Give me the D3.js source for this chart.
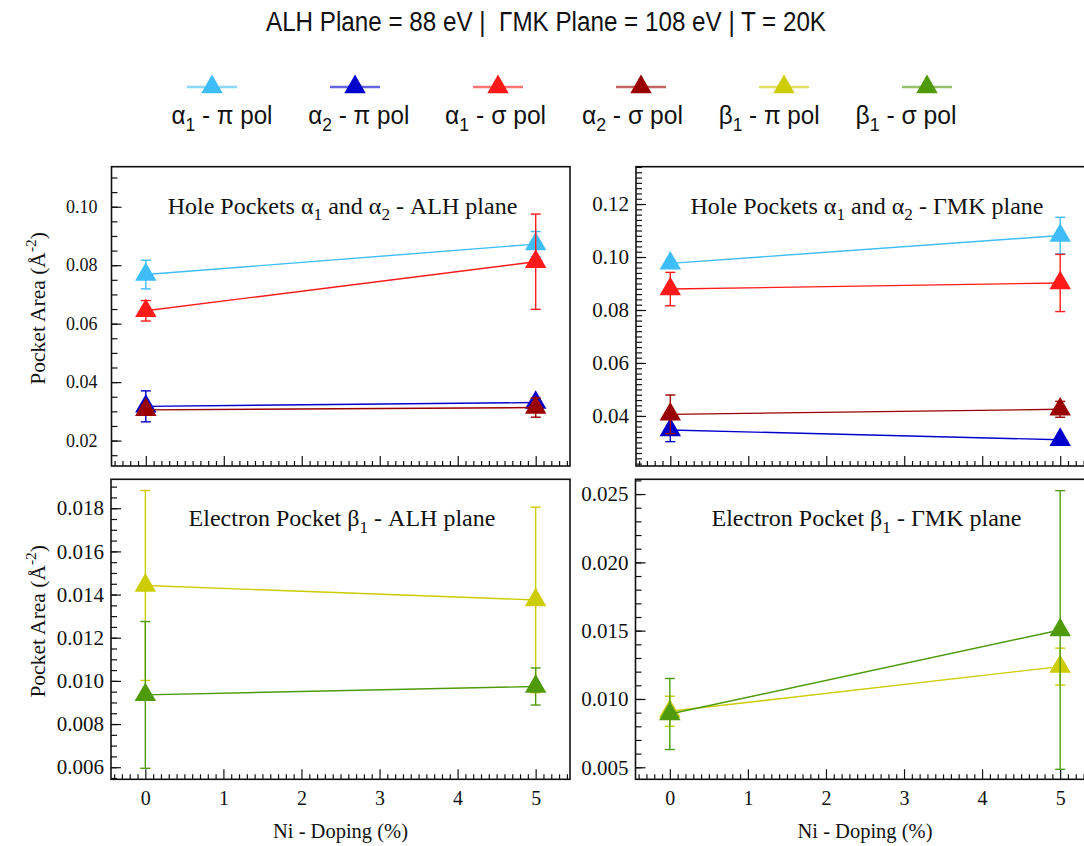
<!DOCTYPE html>
<html><head><meta charset="utf-8">
<script src="https://cdn.jsdelivr.net/npm/d3@7"></script>
<style>body{margin:0;background:#fff}svg{display:block}text{white-space:pre}</style>
</head><body><svg id="c" width="1084" height="846"></svg>
<script>
// ---------------- data ----------------
const doping = [0, 5];
const xTickValues = [0, 1, 2, 3, 4, 5];
const titleText = "ALH Plane = 88 eV |  ΓMK Plane = 108 eV | T = 20K";
const legendGreek = ["α", "α", "α", "α", "β", "β"];
const legendSub = ["1", "2", "1", "2", "1", "1"];
const legendPol = [" - π pol", " - π pol", " - σ pol", " - σ pol", " - π pol", " - σ pol"];
const seriesColors = ["#3fbdf8", "#0000cc", "#ff1a1a", "#990000", "#cccc00", "#4f9a0a"];

// ALH plane, hole pockets (series 0..3)
const alhA1Pi = [0.0768, 0.0872], alhA1PiErr = [0.0049, 0.0043];
const alhA2Pi = [0.0317, 0.0330], alhA2PiErr = [0.0053, 0.0012];
const alhA1Sig = [0.0644, 0.0812], alhA1SigErr = [0.0035, 0.0163];
const alhA2Sig = [0.0305, 0.0313], alhA2SigErr = [0.0018, 0.0033];
// ΓMK plane, hole pockets
const gmkA1Pi = [0.0976, 0.1081], gmkA1PiErr = [0.0012, 0.0069];
const gmkA2Pi = [0.0347, 0.0310], gmkA2PiErr = [0.0044, 0.0010];
const gmkA1Sig = [0.0879, 0.0902], gmkA1SigErr = [0.0063, 0.0108];
const gmkA2Sig = [0.0406, 0.0425], gmkA2SigErr = [0.0073, 0.0030];
// ALH plane, electron pocket (series 4,5)
const alhB1Pi = [0.01442, 0.01375], alhB1PiErr = [0.0044, 0.0043];
const alhB1Sig = [0.00935, 0.00974], alhB1SigErr = [0.0034, 0.00086];
// ΓMK plane, electron pocket
const gmkB1Pi = [0.0091, 0.01237], gmkB1PiErr = [0.0011, 0.00135];
const gmkB1Sig = [0.0089, 0.01505], gmkB1SigErr = [0.0026, 0.0102];

const tlTicks = [0.02, 0.04, 0.06, 0.08, 0.10];
const trTicks = [0.04, 0.06, 0.08, 0.10, 0.12];
const blTicks = [0.006, 0.008, 0.010, 0.012, 0.014, 0.016, 0.018];
const brTicks = [0.005, 0.010, 0.015, 0.020, 0.025];

// ---------------- layout ----------------
const SERIF = "'Liberation Serif','Times New Roman',serif";
const SANS = "'Liberation Sans',Arial,sans-serif";
const svg = d3.select("#c");

const panels = [
  {x0: 111.5, y0: 166.7, w: 458.5, h: 299.3, dom: [0.0113, 0.1137], ticks: tlTicks, minorStep: 0.005, fmt: ".2f", pad: 14, tfs: 18,
   series: [[alhA1Pi, alhA1PiErr, 0], [alhA2Pi, alhA2PiErr, 1], [alhA1Sig, alhA1SigErr, 2], [alhA2Sig, alhA2SigErr, 3]],
   note: ["Hole Pockets α", {sub: "1"}, " and α", {sub: "2"}, " - ALH plane"], xlab: false, ylab: true},
  {x0: 636, y0: 166.7, w: 458.5, h: 299.3, dom: [0.0211, 0.1341], ticks: trTicks, minorStep: 0.002, fmt: ".2f", pad: 7, tfs: 21,
   series: [[gmkA1Pi, gmkA1PiErr, 0], [gmkA2Pi, gmkA2PiErr, 1], [gmkA1Sig, gmkA1SigErr, 2], [gmkA2Sig, gmkA2SigErr, 3]],
   note: ["Hole Pockets α", {sub: "1"}, " and α", {sub: "2"}, " - ΓMK plane"], xlab: false, ylab: false},
  {x0: 111, y0: 479.3, w: 459, h: 300, dom: [0.00544, 0.01934], ticks: blTicks, minorStep: 0.0005, fmt: ".3f", pad: 7, tfs: 21,
   series: [[alhB1Pi, alhB1PiErr, 4], [alhB1Sig, alhB1SigErr, 5]],
   note: ["Electron Pocket β", {sub: "1"}, " - ALH plane"], xlab: true, ylab: true},
  {x0: 635.5, y0: 479.3, w: 459, h: 300, dom: [0.00412, 0.02608], ticks: brTicks, minorStep: 0.001, fmt: ".3f", pad: 7, tfs: 21,
   series: [[gmkB1Pi, gmkB1PiErr, 4], [gmkB1Sig, gmkB1SigErr, 5]],
   note: ["Electron Pocket β", {sub: "1"}, " - ΓMK plane"], xlab: true, ylab: false}
];

function rich(t, parts, size) {
  let shifted = 0;
  parts.forEach(p => {
    if (typeof p === "string") {
      t.append("tspan").attr("dy", -shifted).attr("font-size", size).text(p);
      shifted = 0;
    } else if (p.sub) {
      const d = size * 0.28;
      t.append("tspan").attr("dy", d).attr("font-size", size * 0.72).text(p.sub);
      shifted = d;
    } else if (p.sup) {
      const d = -size * 0.42;
      t.append("tspan").attr("dy", d).attr("font-size", size * 0.72).text(p.sup);
      shifted = d;
    }
  });
  return t;
}

// title
svg.append("text").attr("x", 546).attr("y", 31).attr("text-anchor", "middle")
  .attr("font-family", SANS).attr("font-size", 27).attr("fill", "#111")
  .attr("textLength", 560).attr("lengthAdjust", "spacingAndGlyphs").text(titleText);

// legend
const sym = d3.symbol().type(d3.symbolTriangle).size(200);
legendGreek.forEach((gk, i) => {
  const cx = 212 + i * 143, cy = 87;
  svg.append("line").attr("x1", cx - 25).attr("x2", cx + 25).attr("y1", cy).attr("y2", cy)
    .attr("stroke", seriesColors[i]).attr("stroke-width", 2.5).attr("opacity", 0.6);
  svg.append("path").attr("d", sym()).attr("transform", `translate(${cx},${cy})`).attr("fill", seriesColors[i]);
  const t = svg.append("text").attr("x", 222 + i * 136.8).attr("y", 124).attr("text-anchor", "middle")
    .attr("font-family", SANS).attr("fill", "#111")
    .attr("textLength", 101).attr("lengthAdjust", "spacingAndGlyphs");
  rich(t, [gk, {sub: legendSub[i]}, legendPol[i]], 26);
});

const xDom = [-0.44, 5.44];
panels.forEach(p => {
  const g = svg.append("g");
  const x = d3.scaleLinear().domain(xDom).range([p.x0, p.x0 + p.w]);
  const y = d3.scaleLinear().domain(p.dom).range([p.y0 + p.h, p.y0]);
  const strip = s => s.call(a => a.select(".domain").remove())
    .call(a => a.selectAll("line").attr("stroke", "#111").attr("stroke-width", 1.2));

  // y minor ticks
  const k0 = Math.ceil(p.dom[0] / p.minorStep - 1e-6), k1 = Math.floor(p.dom[1] / p.minorStep + 1e-6);
  const minorY = d3.range(k0, k1 + 1).map(k => +(k * p.minorStep).toFixed(6));
  g.append("g").attr("transform", `translate(${p.x0},0)`)
    .call(d3.axisLeft(y).tickValues(minorY).tickSize(-6).tickFormat("")).call(strip);
  // y major ticks
  const ya = g.append("g").attr("transform", `translate(${p.x0},0)`)
    .call(d3.axisLeft(y).tickValues(p.ticks).tickSize(-10).tickPadding(p.pad).tickFormat(d3.format(p.fmt))).call(strip);
  ya.selectAll("text").attr("font-family", SERIF).attr("font-size", p.tfs).attr("fill", "#111");

  // x minor / major ticks
  const minorX = d3.range(-4, 55).map(k => k / 10).filter(v => Math.abs(v - Math.round(v)) > 1e-6);
  g.append("g").attr("transform", `translate(0,${p.y0 + p.h})`)
    .call(d3.axisBottom(x).tickValues(minorX).tickSize(-5).tickFormat("")).call(strip);
  const xa = g.append("g").attr("transform", `translate(0,${p.y0 + p.h})`)
    .call(d3.axisBottom(x).tickValues(xTickValues).tickSize(-10).tickPadding(12)
      .tickFormat(p.xlab ? d3.format("d") : "")).call(strip);
  xa.selectAll("text").attr("font-family", SERIF).attr("font-size", 20).attr("fill", "#111");

  // series
  const line = d3.line().x((d, i) => x(doping[i])).y(d => y(d));
  p.series.forEach(([vals, errs, ci]) => {
    const col = seriesColors[ci];
    g.append("path").attr("d", line(vals)).attr("fill", "none").attr("stroke", col).attr("stroke-width", 1.4);
    vals.forEach((v, i) => {
      const cx = x(doping[i]), yt = y(v + errs[i]), yb = y(v - errs[i]);
      g.append("line").attr("x1", cx).attr("x2", cx).attr("y1", yt).attr("y2", yb).attr("stroke", col).attr("stroke-width", 1.4);
      [yt, yb].forEach(yy => g.append("line").attr("x1", cx - 5).attr("x2", cx + 5).attr("y1", yy).attr("y2", yy)
        .attr("stroke", col).attr("stroke-width", 1.4));
    });
    vals.forEach((v, i) => {
      g.append("path").attr("d", sym()).attr("transform", `translate(${x(doping[i])},${y(v)})`).attr("fill", col);
    });
  });

  // frame
  g.append("rect").attr("x", p.x0).attr("y", p.y0).attr("width", p.w).attr("height", p.h)
    .attr("fill", "none").attr("stroke", "#111").attr("stroke-width", 1.6);

  // annotation
  const nt = g.append("text").attr("x", p.x0 + 231).attr("y", p.y0 + 47).attr("text-anchor", "middle")
    .attr("font-family", SERIF).attr("fill", "#111");
  rich(nt, p.note, 24);

  if (p.xlab) {
    g.append("text").attr("x", p.x0 + 229.5).attr("y", 838).attr("text-anchor", "middle")
      .attr("font-family", SERIF).attr("font-size", 20.5).attr("fill", "#111").text("Ni - Doping (%)");
  }
  if (p.ylab) {
    const yl = g.append("text").attr("transform", `translate(45,${p.y0 + p.h / 2 - 8}) rotate(-90)`)
      .attr("text-anchor", "middle").attr("font-family", SERIF).attr("fill", "#111");
    rich(yl, ["Pocket Area (Å", {sup: "-2"}, ")"], 21.5);
  }
});
</script>
</body></html>
